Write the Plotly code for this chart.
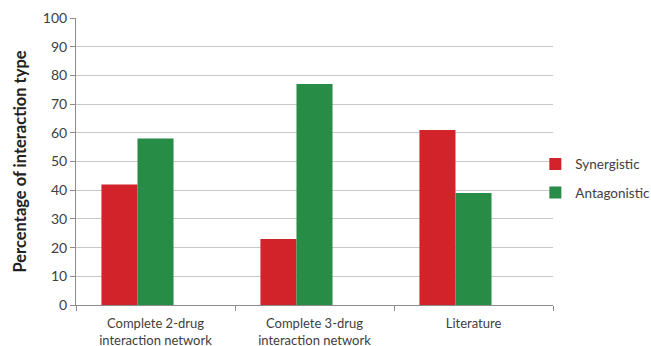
import plotly.graph_objects as go

categories = ["Complete 2-drug<br>interaction network",
              "Complete 3-drug<br>interaction network",
              "Literature"]
synergistic = [42, 23, 61]
antagonistic = [58, 77, 39]
y_ticks = list(range(0, 101, 10))

RED = "#d2232a"
GREEN = "#278c45"
AXIS_GRAY = "#8c8c8c"
TEXT = "#404040"

fig = go.Figure()
fig.add_trace(go.Bar(name="Synergistic", x=categories, y=synergistic,
                     marker=dict(color=RED, line=dict(width=0)),
                     legendgroup="s"))
fig.add_trace(go.Bar(name="Antagonistic", x=categories, y=antagonistic,
                     marker=dict(color=GREEN, line=dict(width=0)),
                     legendgroup="a"))
# empty third slot in each group keeps the bar layout of the source workbook
fig.add_trace(go.Bar(name="", x=categories, y=[None, None, None],
                     showlegend=False, hoverinfo="skip"))

fig.update_layout(
    width=651, height=346,
    margin=dict(l=76, r=98, t=18, b=41, autoexpand=False),
    paper_bgcolor="white", plot_bgcolor="white",
    barmode="group", bargap=0.32, bargroupgap=0,
    font=dict(family="Lato, Open Sans, sans-serif", size=14, color=TEXT),
    legend=dict(x=0.963, xanchor="left", y=0.44, yanchor="middle",
                bgcolor="rgba(0,0,0,0)",
                font=dict(size=13.5, color=TEXT), tracegroupgap=8,
                traceorder="grouped", itemwidth=30),
    showlegend=True,
)
fig.update_xaxes(
    showline=True, linecolor=AXIS_GRAY, linewidth=1,
    ticks="outside", tickson="boundaries", ticklen=5, tickcolor=AXIS_GRAY,
    ticklabelstandoff=6,
    tickfont=dict(size=13, color=TEXT), showgrid=False,
)
fig.update_yaxes(
    range=[0, 100], tickvals=y_ticks,
    showline=True, linecolor=AXIS_GRAY, linewidth=1,
    ticks="outside", ticklen=5, tickcolor=AXIS_GRAY,
    showgrid=True, gridcolor="#c8c8c8", gridwidth=1,
    zeroline=False,
    tickfont=dict(size=14, color=TEXT),
    title=dict(text="<b>Percentage of interaction type</b>",
               font=dict(size=16.5, color="#222222"), standoff=12),
)

fig.write_html("out.html")
